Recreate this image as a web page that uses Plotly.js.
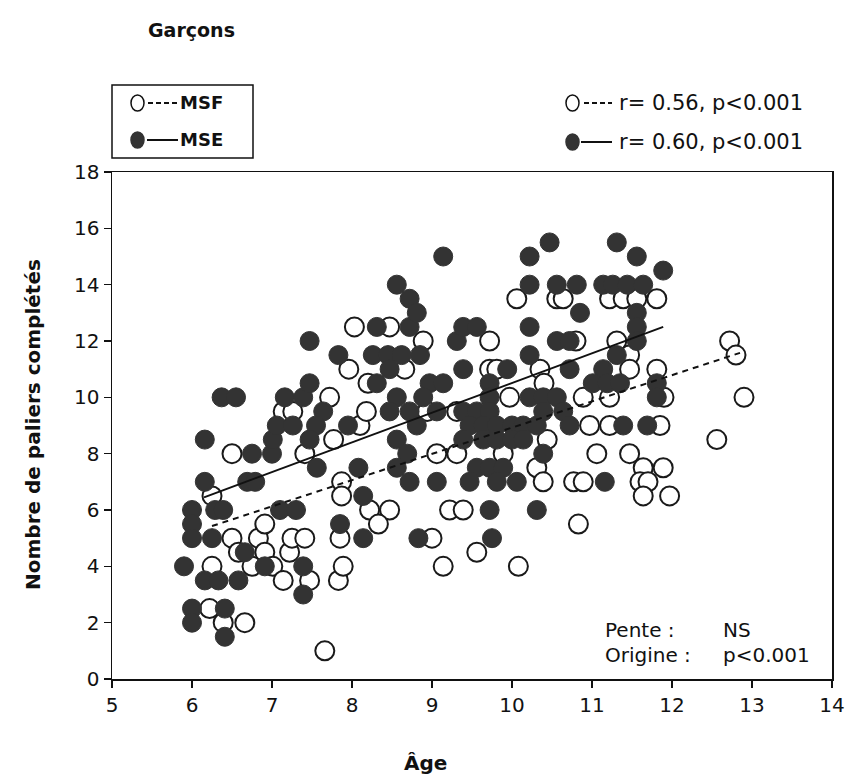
<!DOCTYPE html>
<html>
<head>
<meta charset="utf-8">
<script src="https://cdn.plot.ly/plotly-3.0.1.min.js"></script>
<style>html,body{margin:0;padding:0;background:#fff;}#chart{width:850px;height:778px;}</style>
</head>
<body>
<div id="chart"></div>
<script>
// MSF (open circles)
const msfAge = [6.25,6.22,6.25,6.39,6.66,6.5,6.5,6.58,6.83,6.91,6.91,7.01,6.75,7.14,7.14,7.22,7.25,7.41,7.41,7.26,7.72,7.77,7.47,7.83,7.66,7.87,7.87,7.85,7.89,8.03,7.96,8.1,8.18,8.2,8.47,8.89,8.66,8.94,8.47,8.22,8.33,9.06,9.31,9.0,9.22,9.39,9.14,9.56,9.31,9.72,9.72,9.81,9.97,9.89,10.08,10.06,10.56,10.35,10.44,10.31,10.39,10.8,10.64,11.22,11.39,11.56,11.81,11.31,11.47,11.47,11.81,11.9,10.89,11.22,10.97,11.22,11.85,12.72,12.8,12.9,12.56,11.06,11.47,11.64,11.89,10.77,10.89,11.6,11.7,11.64,11.97,10.83,10.4];
const msfPaliers = [6.5,2.5,4,2,2,8,5,4.5,5,4.5,5.5,4,4,9.5,3.5,4.5,5,5,8,9.5,10,8.5,3.5,3.5,1,7,6.5,5,4,12.5,11,9,9.5,10.5,12.5,12,11,9.5,6,6,5.5,8,8,5,6,6,4,4.5,9.5,12,11,11,10,8,4,13.5,13.5,11,8.5,7.5,7,12,13.5,13.5,13.5,13.5,13.5,12,11.5,11,11,10,10,10,9,9,9,12,11.5,10,8.5,8,8,7.5,7.5,7,7,7,7,6.5,6.5,5.5,10.5];

// MSE (filled circles)
const mseAge = [5.9,6.0,6.0,6.0,6.0,6.0,6.16,6.16,6.29,6.39,6.25,6.16,6.33,6.58,6.41,6.41,6.37,6.55,6.66,6.69,6.79,6.75,7.0,7.01,6.91,7.06,7.16,7.1,7.3,7.39,7.47,7.64,7.26,7.55,7.39,7.39,7.47,7.47,7.56,7.83,7.95,7.85,8.14,8.14,8.08,8.26,8.45,8.62,8.85,8.31,8.72,8.56,8.72,8.81,8.31,8.47,8.97,9.14,8.56,8.89,8.47,8.72,9.06,8.81,8.56,8.69,8.56,8.72,9.06,8.83,9.14,9.31,9.39,9.56,9.39,9.94,9.72,9.72,9.39,9.56,9.72,9.47,9.64,9.81,10.0,10.14,10.31,9.39,9.64,9.81,10.0,10.14,9.56,9.72,9.89,9.47,9.81,10.06,9.72,10.31,9.75,10.22,10.47,10.22,10.56,10.81,10.85,10.22,10.56,10.72,10.22,10.72,10.22,10.39,10.56,10.39,10.64,10.72,10.39,11.31,11.56,11.89,11.14,11.26,11.44,11.64,11.56,11.56,11.56,11.31,11.14,11.01,11.19,11.35,11.81,11.81,11.39,11.69,11.16];
const msePaliers = [4,6,5.5,5,2.5,2,8.5,7,6,6,5,3.5,3.5,3.5,2.5,1.5,10,10,4.5,7,7,8,8,8.5,4,9,10,6,6,10,10.5,9.5,9,9,4,3,12,8.5,7.5,11.5,9,5.5,5,6.5,7.5,11.5,11.5,11.5,11.5,12.5,12.5,14,13.5,13,10.5,11,10.5,10.5,10,10,9.5,9.5,9.5,9,8.5,8,7.5,7,7,5,15,12,12.5,12.5,11,11,10.5,10,9.5,9.5,9.5,9,9,9,9,9,9,8.5,8.5,8.5,8.5,8.5,7.5,7.5,7.5,7,7,7,6,6,5,15,15.5,14,14,14,13,12.5,12,12,11.5,11,10,10,10,9.5,9.5,9,8,15.5,15,14.5,14,14,14,14,13,12.5,12,11.5,11,10.5,10.5,10.5,10.5,10,9,9,7];

// Regression lines
const msfFitAge = [6.25, 12.85];
const msfFitPaliers = [5.43, 11.58];
const mseFitAge = [6.15, 11.89];
const mseFitPaliers = [6.45, 12.5];

const xTicks = [5,6,7,8,9,10,11,12,13,14];
const yTicks = [0,2,4,6,8,10,12,14,16,18];

const FONT = "DejaVu Sans, Verdana, sans-serif";
const L = 112, R = 832, T = 172, B = 679;
const px = v => (v - L) / (R - L);
const py = v => (B - v) / (B - T);

const traces = [
  {x: msfAge, y: msfPaliers, type: 'scatter', mode: 'markers', name: 'MSF',
   marker: {symbol: 'circle', size: 19, color: '#ffffff', line: {color: '#1a1a1a', width: 2}}},
  {x: mseAge, y: msePaliers, type: 'scatter', mode: 'markers', name: 'MSE',
   marker: {symbol: 'circle', size: 19, color: '#333333', line: {color: '#333333', width: 1}}},
  {x: msfFitAge, y: msfFitPaliers, type: 'scatter', mode: 'lines', name: 'MSF fit',
   line: {color: '#111', width: 2, dash: '6px,5px'}},
  {x: mseFitAge, y: mseFitPaliers, type: 'scatter', mode: 'lines', name: 'MSE fit',
   line: {color: '#111', width: 2}}
];

const shapes = [
  {type: 'rect', xref: 'paper', yref: 'paper', x0: px(112), x1: px(253), y0: py(158), y1: py(85), line: {color: '#111', width: 1.5}, fillcolor: 'rgba(0,0,0,0)'},
  {type: 'circle', xref: 'paper', yref: 'paper', x0: px(131), x1: px(144), y0: py(111), y1: py(95), line: {color: '#111', width: 1.5}, fillcolor: '#fff'},
  {type: 'line', xref: 'paper', yref: 'paper', x0: px(148), x1: px(177), y0: py(103), y1: py(103), line: {color: '#111', width: 2, dash: '5px,3px'}},
  {type: 'circle', xref: 'paper', yref: 'paper', x0: px(131), x1: px(144), y0: py(148), y1: py(132), line: {color: '#333', width: 1.5}, fillcolor: '#333'},
  {type: 'line', xref: 'paper', yref: 'paper', x0: px(147), x1: px(178), y0: py(140), y1: py(140), line: {color: '#111', width: 2}},
  {type: 'circle', xref: 'paper', yref: 'paper', x0: px(566), x1: px(579), y0: py(111), y1: py(95), line: {color: '#111', width: 1.5}, fillcolor: '#fff'},
  {type: 'line', xref: 'paper', yref: 'paper', x0: px(584), x1: px(612), y0: py(103), y1: py(103), line: {color: '#111', width: 2, dash: '5px,3px'}},
  {type: 'circle', xref: 'paper', yref: 'paper', x0: px(566), x1: px(579), y0: py(150), y1: py(134), line: {color: '#333', width: 1.5}, fillcolor: '#333'},
  {type: 'line', xref: 'paper', yref: 'paper', x0: px(581), x1: px(612), y0: py(142), y1: py(142), line: {color: '#111', width: 2}}
];

const ann = (x, y, text, opts) => Object.assign({xref: 'paper', yref: 'paper', x: px(x), y: py(y), text: text, showarrow: false, xanchor: 'left', yanchor: 'middle', font: {family: FONT, size: 21, color: '#111'}}, opts || {});

const annotations = [
  ann(178, 103, '<b>MSF</b>', {font: {family: FONT, size: 18, color: '#111'}}),
  ann(178, 140, '<b>MSE</b>', {font: {family: FONT, size: 18, color: '#111'}}),
  ann(617, 103, 'r= 0.56, p<0.001'),
  ann(617, 142, 'r= 0.60, p<0.001'),
  ann(603, 630, 'Pente :', {font: {family: FONT, size: 20, color: '#111'}}),
  ann(603, 655, 'Origine :', {font: {family: FONT, size: 20, color: '#111'}}),
  ann(721, 630, 'NS', {font: {family: FONT, size: 20, color: '#111'}}),
  ann(721, 655, 'p<0.001', {font: {family: FONT, size: 20, color: '#111'}}),
  ann(425, 763, '<b>Âge</b>', {xanchor: 'center', font: {family: FONT, size: 20, color: '#111'}}),
  ann(33, 425, '<b>Nombre de paliers complétés</b>', {xanchor: 'center', textangle: -90, font: {family: FONT, size: 20, color: '#111'}})
];

const layout = {
  width: 850, height: 778,
  margin: {l: L, r: 850 - R, t: T, b: 778 - B, pad: 0},
  paper_bgcolor: '#fff', plot_bgcolor: '#fff',
  showlegend: false,
  title: {text: '<b>Garçons</b>', x: 148/850, xref: 'container', xanchor: 'left', y: 1 - 30/778, yref: 'container', yanchor: 'middle', font: {family: FONT, size: 19, color: '#111'}},
  xaxis: {range: [5, 14], tickvals: xTicks, ticktext: xTicks.map(String), showgrid: false, zeroline: false,
          showline: true, linecolor: '#111', linewidth: 1.5, mirror: true, ticks: 'outside', ticklen: 7, tickcolor: '#111', tickwidth: 1.5,
          tickfont: {family: FONT, size: 20, color: '#111'}, fixedrange: true},
  yaxis: {range: [0, 18], tickvals: yTicks, ticktext: yTicks.map(String), showgrid: false, zeroline: false,
          showline: true, linecolor: '#111', linewidth: 1.5, mirror: true, ticks: 'outside', ticklen: 7, tickcolor: '#111', tickwidth: 1.5,
          tickfont: {family: FONT, size: 20, color: '#111'}, fixedrange: true},
  shapes: shapes,
  annotations: annotations
};

Plotly.newPlot('chart', traces, layout, {displayModeBar: false, staticPlot: true});
</script>
</body>
</html>
